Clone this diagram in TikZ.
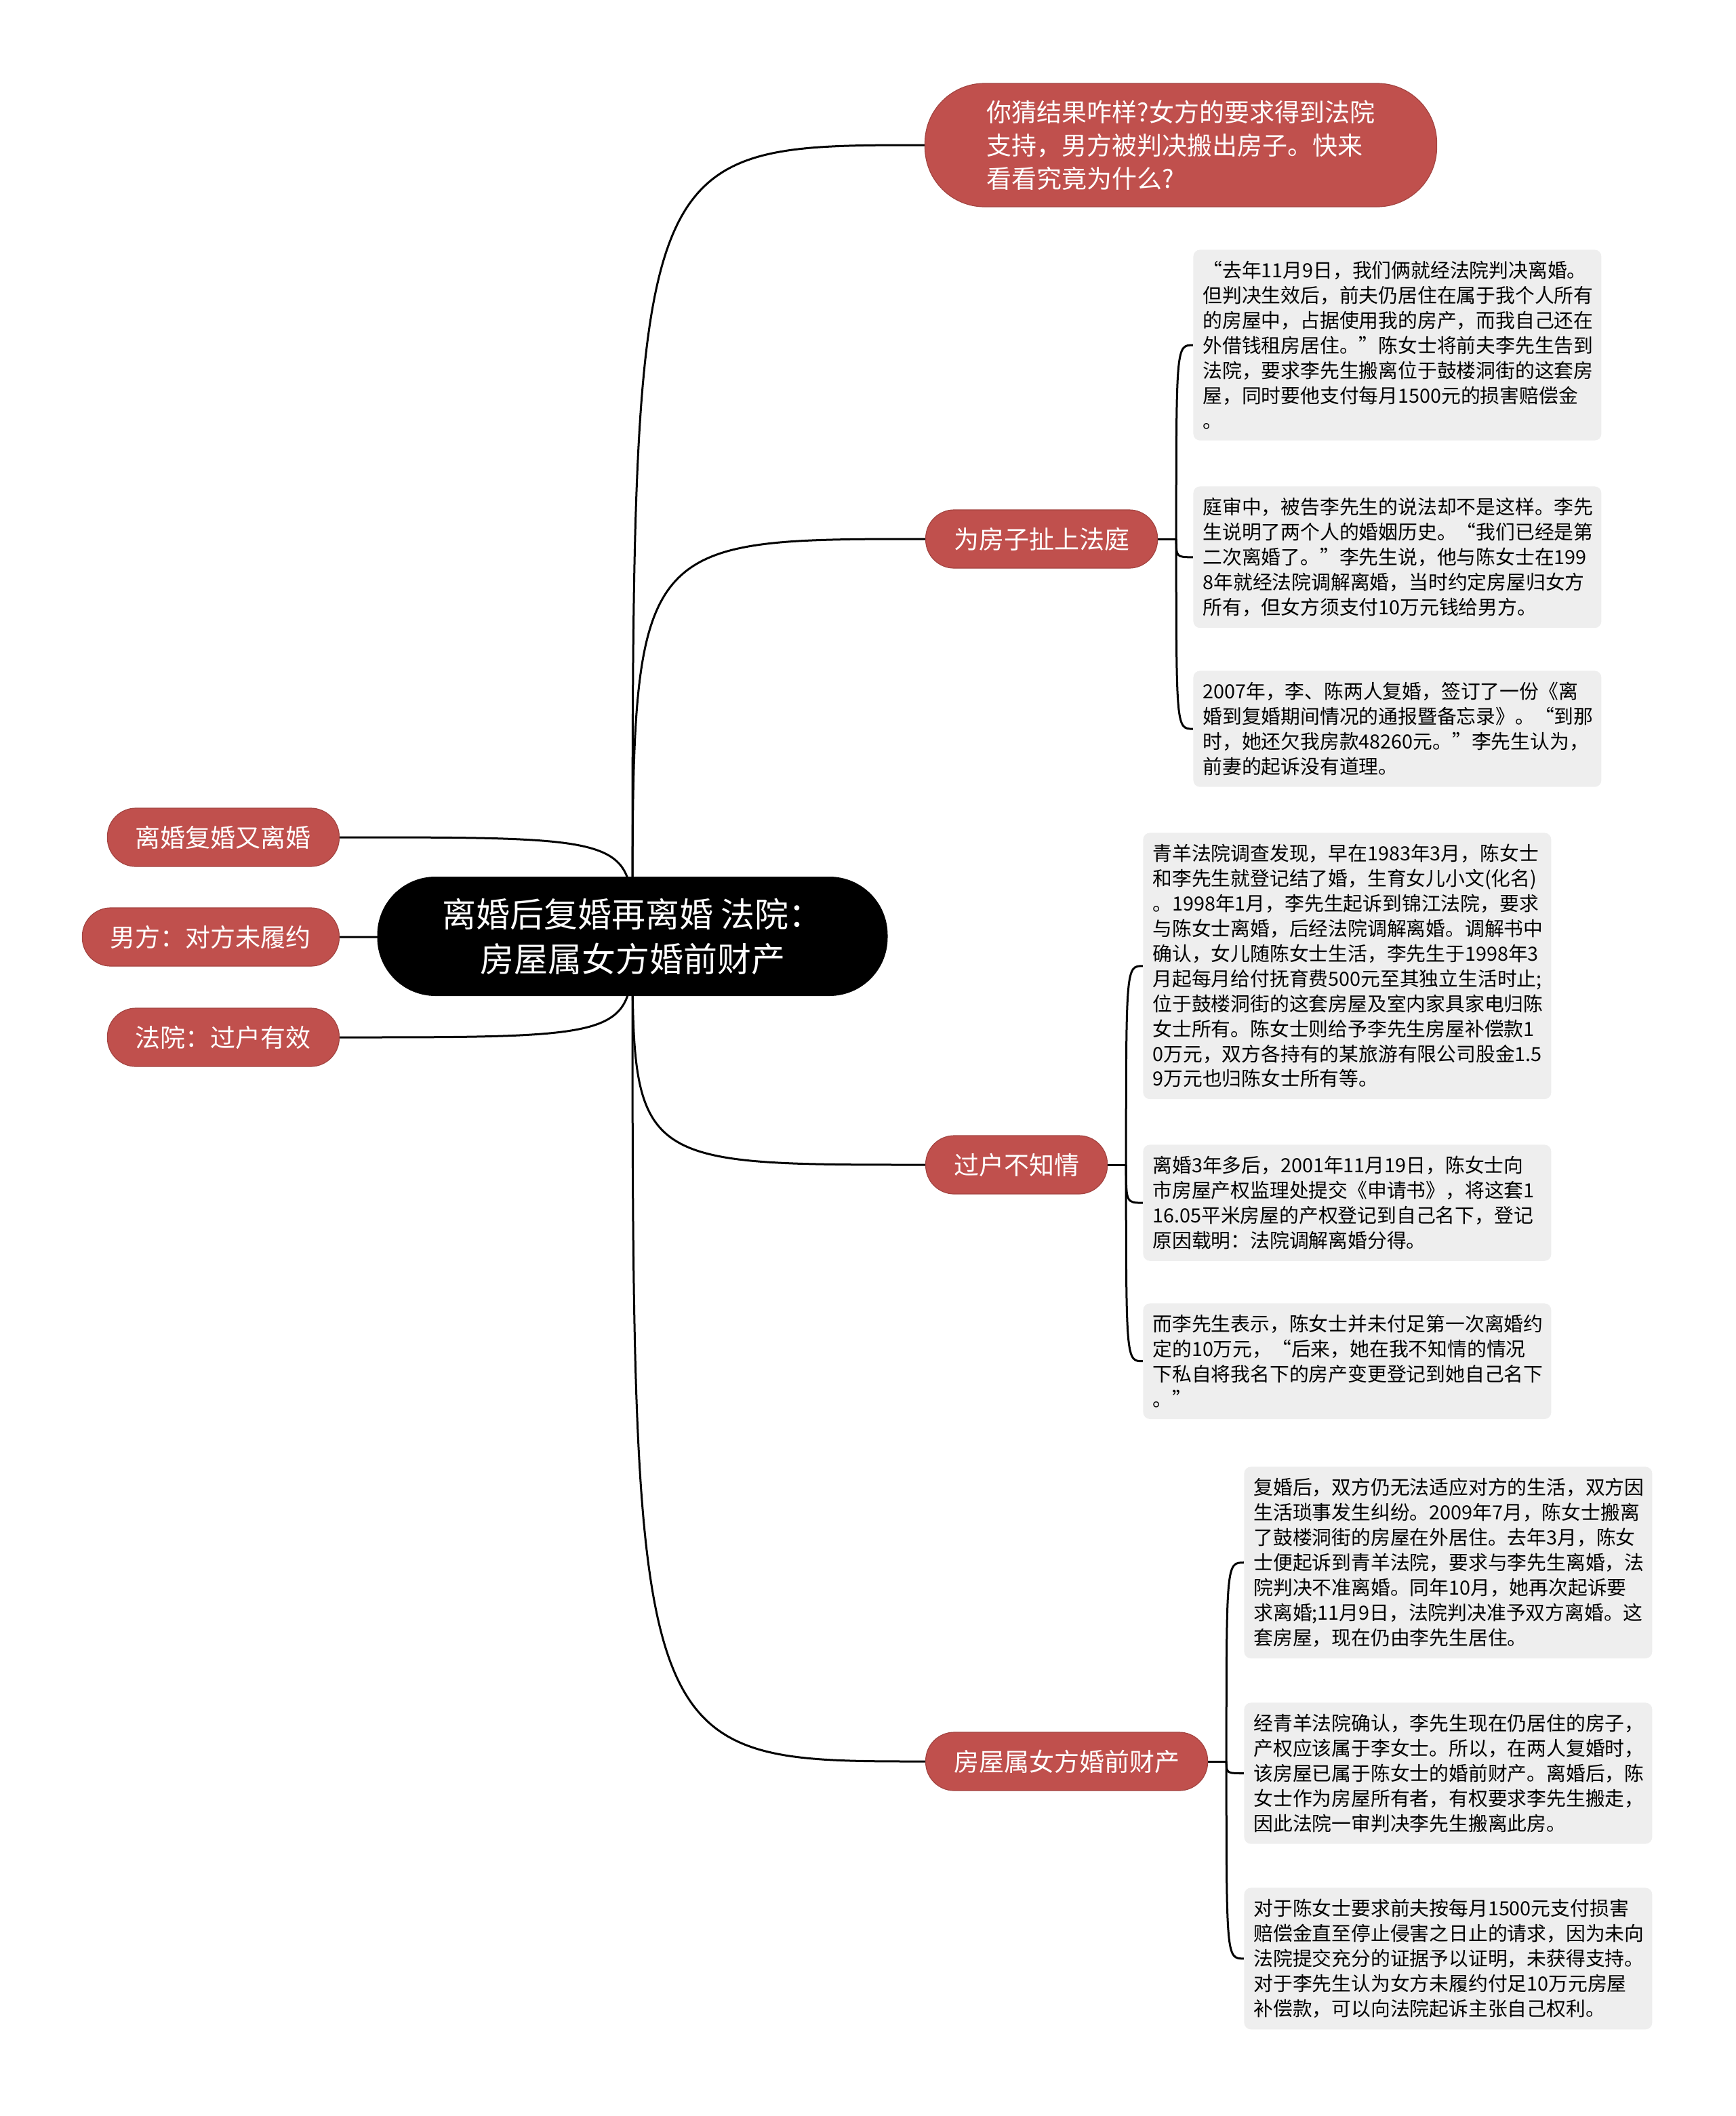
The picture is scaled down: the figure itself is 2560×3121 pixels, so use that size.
\documentclass[tikz,border=0pt]{standalone}
\usepackage{fontspec}
\setmainfont{Noto Sans CJK SC}
\usetikzlibrary{backgrounds}
\definecolor{topicred}{RGB}{192,80,77}
\definecolor{notegray}{RGB}{238,238,238}

\begin{document}
\begin{tikzpicture}[
    x=0.5pt,
    y=-0.5pt,
    link/.style={line width=1.5pt},
    rootnode/.style={fill=black, text=white, rounded corners=43pt,
        minimum width=376.5pt, minimum height=88pt, align=center,
        font=\fontsize{25}{33}\selectfont},
    topic/.style={fill=topicred, draw=topicred!85!black, line width=0.6pt,
        text=white, rounded corners=21pt, minimum height=43pt,
        inner xsep=20.75pt, font=\fontsize{18.5}{24.5}\selectfont},
    note/.style={fill=notegray, rounded corners=5pt, text width=287pt,
        inner xsep=7pt, inner ysep=8.4pt, align=left, anchor=north west,
        font=\fontsize{14.4}{18.46}\selectfont}
]
\useasboundingbox (0,0) rectangle (2560,3121);

\node[rootnode] (root) at (933,1381) {离婚后复婚再离婚 法院：\\房屋属女方婚前财产};

\node[topic, rounded corners=44pt, minimum width=377.5pt, minimum height=91pt, align=left] (q) at (1742,214)
    {你猜结果咋样?女方的要求得到法院\\支持，男方被判决搬出房子。快来\\看看究竟为什么?};
\node[topic, anchor=west] (court) at (1365,795) {为房子扯上法庭};
\node[topic, anchor=west] (transfer) at (1365,1718) {过户不知情};
\node[topic, anchor=west] (premarital) at (1365,2598) {房屋属女方婚前财产};

\node[topic, anchor=east] (l1) at (501,1235) {离婚复婚又离婚};
\node[topic, anchor=east] (l2) at (501,1382) {男方：对方未履约};
\node[topic, anchor=east] (l3) at (501,1530) {法院：过户有效};

\node[note] (c1) at (1760,368) {“去年11月9日，我们俩就经法院判决离婚。\\但判决生效后，前夫仍居住在属于我个人所有\\的房屋中，占据使用我的房产，而我自己还在\\外借钱租房居住。”陈女士将前夫李先生告到\\法院，要求李先生搬离位于鼓楼洞街的这套房\\屋，同时要他支付每月1500元的损害赔偿金\\。};
\node[note] (c2) at (1760,717) {庭审中，被告李先生的说法却不是这样。李先\\生说明了两个人的婚姻历史。“我们已经是第\\二次离婚了。”李先生说，他与陈女士在199\\8年就经法院调解离婚，当时约定房屋归女方\\所有，但女方须支付10万元钱给男方。};
\node[note] (c3) at (1760,989) {2007年，李、陈两人复婚，签订了一份《离\\婚到复婚期间情况的通报暨备忘录》。“到那\\时，她还欠我房款48260元。”李先生认为，\\前妻的起诉没有道理。};

\node[note] (t1) at (1686,1228) {青羊法院调查发现，早在1983年3月，陈女士\\和李先生就登记结了婚，生育女儿小文(化名)\\。1998年1月，李先生起诉到锦江法院，要求\\与陈女士离婚，后经法院调解离婚。调解书中\\确认，女儿随陈女士生活，李先生于1998年3\\月起每月给付抚育费500元至其独立生活时止;\\位于鼓楼洞街的这套房屋及室内家具家电归陈\\女士所有。陈女士则给予李先生房屋补偿款1\\0万元，双方各持有的某旅游有限公司股金1.5\\9万元也归陈女士所有等。};
\node[note] (t2) at (1686,1688) {离婚3年多后，2001年11月19日，陈女士向\\市房屋产权监理处提交《申请书》，将这套1\\16.05平米房屋的产权登记到自己名下，登记\\原因载明：法院调解离婚分得。};
\node[note] (t3) at (1686,1922) {而李先生表示，陈女士并未付足第一次离婚约\\定的10万元，“后来，她在我不知情的情况\\下私自将我名下的房产变更登记到她自己名下\\。”};

\node[note] (p1) at (1835,2163) {复婚后，双方仍无法适应对方的生活，双方因\\生活琐事发生纠纷。2009年7月，陈女士搬离\\了鼓楼洞街的房屋在外居住。去年3月，陈女\\士便起诉到青羊法院，要求与李先生离婚，法\\院判决不准离婚。同年10月，她再次起诉要\\求离婚;11月9日，法院判决准予双方离婚。这\\套房屋，现在仍由李先生居住。};
\node[note] (p2) at (1835,2511) {经青羊法院确认，李先生现在仍居住的房子，\\产权应该属于李女士。所以，在两人复婚时，\\该房屋已属于陈女士的婚前财产。离婚后，陈\\女士作为房屋所有者，有权要求李先生搬走，\\因此法院一审判决李先生搬离此房。};
\node[note] (p3) at (1835,2784) {对于陈女士要求前夫按每月1500元支付损害\\赔偿金直至停止侵害之日止的请求，因为未向\\法院提交充分的证据予以证明，未获得支持。\\对于李先生认为女方未履约付足10万元房屋\\补偿款，可以向法院起诉主张自己权利。};

\coordinate (courtj) at ([xshift=13.5pt]court.east);
\coordinate (transferj) at ([xshift=13.5pt]transfer.east);
\coordinate (premaritalj) at ([xshift=13.5pt]premarital.east);

\begin{scope}[on background layer]
\foreach \n in {q,court,transfer,premarital}
    \draw[link] (root.center) .. controls (root.center |- \n.west) .. (\n.west);
\foreach \n in {l1,l2,l3}
    \draw[link] (root.center) .. controls (root.center |- \n.east) .. (\n.east);

\draw[link] (court.east) -- (courtj);
\foreach \b in {c1,c2,c3}
    \draw[link] (courtj) .. controls (courtj |- \b.west) .. (\b.west);
\draw[link] (transfer.east) -- (transferj);
\foreach \b in {t1,t2,t3}
    \draw[link] (transferj) .. controls (transferj |- \b.west) .. (\b.west);
\draw[link] (premarital.east) -- (premaritalj);
\foreach \b in {p1,p2,p3}
    \draw[link] (premaritalj) .. controls (premaritalj |- \b.west) .. (\b.west);
\end{scope}
\end{tikzpicture}
\end{document}
